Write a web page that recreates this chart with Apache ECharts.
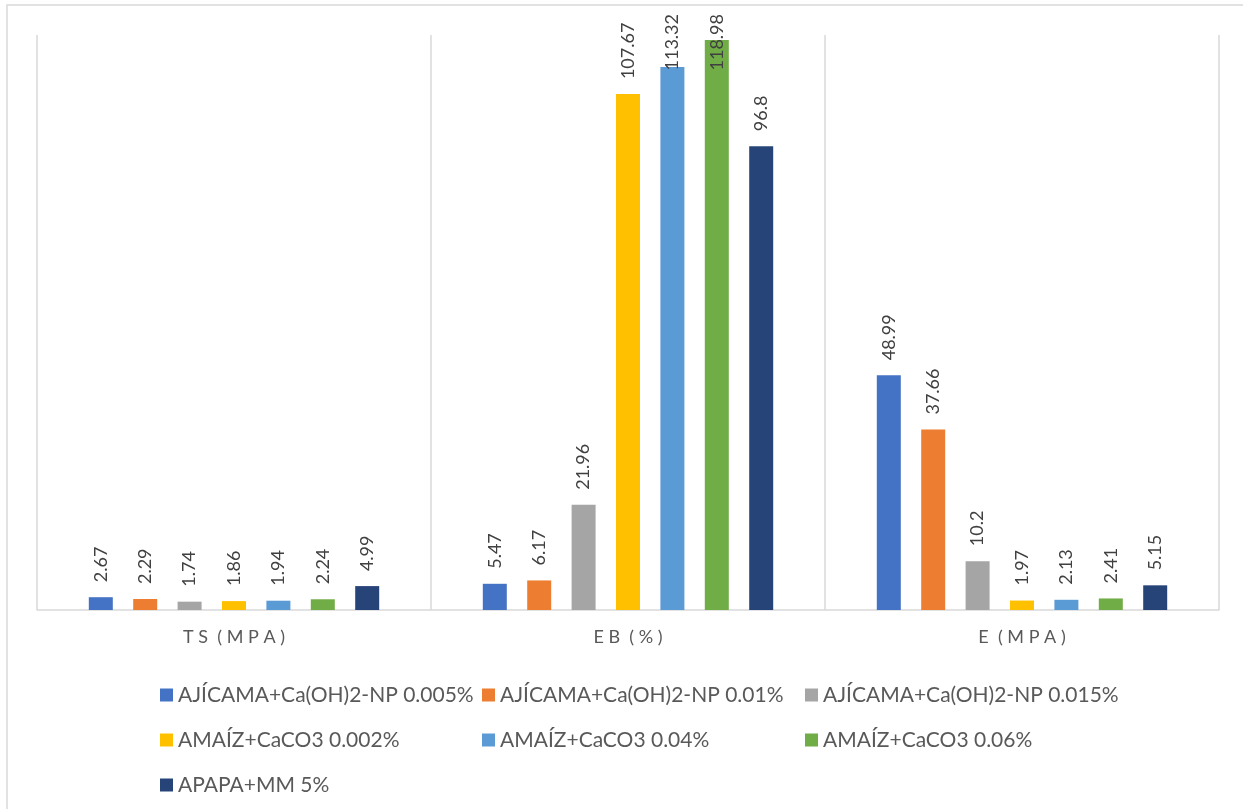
<!DOCTYPE html>
<html>
<head>
<meta charset="UTF-8">
<title>TS EB E</title>
<script type="text/javascript" src="https://cdn.jsdelivr.net/npm/echarts@6/dist/echarts.min.js"></script>
<style>
  html, body { margin: 0; padding: 0; background: #fff; }
</style>
</head>
<body>
<div id="main" style="width:1243px;height:809px"></div>
<script type="text/javascript">
// categorias (eje x)
var categories = ['T S  ( M P A )', 'E B  ( % )', 'E  ( M P A )'];

// series
var seriesNames = [
  'AJÍCAMA+Ca(OH)2-NP 0.005%',
  'AJÍCAMA+Ca(OH)2-NP 0.01%',
  'AJÍCAMA+Ca(OH)2-NP 0.015%',
  'AMAÍZ+CaCO3 0.002%',
  'AMAÍZ+CaCO3 0.04%',
  'AMAÍZ+CaCO3 0.06%',
  'APAPA+MM 5%'
];
var ajicama005 = [2.67, 5.47, 48.99];
var ajicama01 = [2.29, 6.17, 37.66];
var ajicama015 = [1.74, 21.96, 10.2];
var amaiz0002 = [1.86, 107.67, 1.97];
var amaiz004 = [1.94, 113.32, 2.13];
var amaiz006 = [2.24, 118.98, 2.41];
var apapa5 = [4.99, 96.8, 5.15];

var allValues = [ajicama005, ajicama01, ajicama015, amaiz0002, amaiz004, amaiz006, apapa5];
var colors = ['#4472C4', '#ED7D31', '#A5A5A5', '#FFC000', '#5B9BD5', '#70AD47', '#264478'];

var myChart = echarts.init(document.getElementById('main'));

// las etiquetas no salen por arriba del area del grafico
var topLimit = 14;
function clampLabel(p) {
  var r = p.labelRect;
  if (r.y < topLimit) {
    return { x: r.x + r.width / 2, y: topLimit + r.height };
  }
  return {};
}

var series = allValues.map(function (vals, i) {
  return {
    name: seriesNames[i],
    type: 'bar',
    data: vals,
    barWidth: 24,
    barGap: '85%',
    itemStyle: { color: colors[i] },
    label: {
      show: true,
      position: 'top',
      distance: 15,
      rotate: 90,
      align: 'left',
      verticalAlign: 'middle',
      color: '#404040',
      fontFamily: 'Lato',
      fontSize: 18
    },
    labelLayout: clampLabel
  };
});

var legendText = { color: '#595959', fontFamily: 'Lato', fontSize: 21, lineHeight: 22 };

function makeLegend(left, idx) {
  return {
    orient: 'vertical',
    left: left,
    top: 679,
    itemWidth: 13,
    itemHeight: 13,
    itemGap: 23,
    icon: 'rect',
    selectedMode: false,
    textStyle: legendText,
    data: idx.map(function (k) { return seriesNames[k]; })
  };
}

var option = {
  animation: false,
  backgroundColor: '#fff',
  graphic: [{
    type: 'rect',
    shape: { x: 7, y: 5, width: 1300, height: 900 },
    style: { fill: 'none', stroke: '#d9d9d9', lineWidth: 1.5 },
    silent: true
  }],
  legend: [
    makeLegend(155, [0, 3, 6]),
    makeLegend(477, [1, 4]),
    makeLegend(800, [2, 5])
  ],
  grid: { left: 37, right: 24, top: 35, bottom: 199 },
  xAxis: {
    type: 'category',
    data: categories,
    axisLine: { show: true, lineStyle: { color: '#d9d9d9', width: 1.5 } },
    axisTick: { show: false },
    splitLine: { show: true, lineStyle: { color: '#d9d9d9', width: 1.5 } },
    axisLabel: { color: '#595959', fontFamily: 'Lato', fontSize: 18, margin: 18 }
  },
  yAxis: {
    type: 'value',
    min: 0,
    max: 120,
    show: false,
    splitLine: { show: false }
  },
  series: series
};
myChart.setOption(option);
</script>
</body>
</html>
